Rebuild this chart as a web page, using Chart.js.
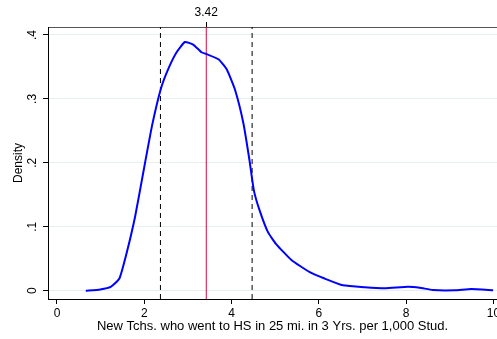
<!DOCTYPE html>
<html>
<head>
<meta charset="utf-8">
<script src="https://cdn.jsdelivr.net/npm/chart.js@4"></script>
<style>
  html, body { margin: 0; padding: 0; background: #fff; }
  #wrap { width: 497px; height: 339px; }
</style>
</head>
<body>
<div id="wrap"><canvas id="densityChart" width="497" height="339"></canvas></div>
<script>
// density curve
const xVals = [0.66, 0.99, 1.23, 1.43, 1.6, 1.79, 1.99, 2.18, 2.38, 2.55, 2.74, 2.93, 3.12, 3.31, 3.43,
    3.70, 3.89, 4.08, 4.27, 4.41, 4.51, 4.64, 4.83, 5.02, 5.37, 5.79, 6.13, 6.55, 7.05, 7.51,
    8.04, 8.31, 8.61, 9.11, 9.49, 9.99];
const densVals = [0, 0.002, 0.006, 0.019, 0.06, 0.116, 0.19, 0.259, 0.316, 0.347, 0.373, 0.389, 0.385, 0.373, 0.370,
    0.362, 0.346, 0.314, 0.262, 0.204, 0.157, 0.126, 0.092, 0.073, 0.048, 0.029, 0.019, 0.0084, 0.0053, 0.0037,
    0.0063, 0.0047, 0.001, 0.0006, 0.0027, 0.0006];

const meanVal = 3.42;
const bandVals = [2.37, 4.47];
const xTicks = [0, 2, 4, 6, 8, 10];
const yTicks = [0, 0.1, 0.2, 0.3, 0.4];

const X_MIN = -0.206, X_MAX = 10.08;
const Y_MIN = -0.013, Y_MAX = 0.4125;
const FONT = { family: 'Liberation Sans, Arial, sans-serif', size: 12 };
const TITLE_FONT = { family: 'Liberation Sans, Arial, sans-serif', size: 13 };

const fmtY = v => v === 0 ? '0' : String(+v.toFixed(1)).replace(/^0/, '');

function vline(x, color, dash) {
    return {
        data: [{ x: x, y: Y_MIN }, { x: x, y: Y_MAX }],
        borderColor: color,
        borderWidth: 1,
        borderDash: dash,
        pointRadius: 0,
        fill: false
    };
}

// y tick labels rotated like Stata
const rotatedYLabels = {
    id: 'rotatedYLabels',
    afterDraw(chart) {
        const ctx = chart.ctx;
        const ys = chart.scales.y;
        ctx.save();
        ctx.fillStyle = '#000';
        ctx.font = FONT.size + 'px ' + FONT.family;
        ctx.textAlign = 'center';
        ctx.textBaseline = 'middle';
        yTicks.forEach(v => {
            const py = ys.getPixelForValue(v);
            ctx.save();
            ctx.translate(33, py);
            ctx.rotate(-Math.PI / 2);
            ctx.fillText(fmtY(v), 0, 0);
            ctx.restore();
        });
        ctx.restore();
    }
};

const ctx = document.getElementById('densityChart').getContext('2d');
new Chart(ctx, {
    type: 'line',
    data: {
        datasets: [
            {
                data: xVals.map((x, i) => ({ x: x, y: densVals[i] })),
                borderColor: '#0000ff',
                borderWidth: 2,
                pointRadius: 0,
                tension: 0.15,
                fill: false
            },
            vline(bandVals[0], '#000', [5, 4]),
            vline(bandVals[1], '#000', [5, 4]),
            vline(meanVal, '#d4083c', [])
        ]
    },
    options: {
        responsive: false,
        animation: false,
        layout: { padding: 0 },
        plugins: {
            legend: { display: false },
            tooltip: { enabled: false }
        },
        scales: {
            x: {
                type: 'linear',
                position: 'bottom',
                min: X_MIN,
                max: X_MAX,
                afterBuildTicks: s => { s.ticks = xTicks.map(v => ({ value: v })); },
                afterFit: s => { s.height = 40; s.paddingLeft = 0; s.paddingRight = 0; },
                ticks: { color: '#000', font: FONT, padding: 2, maxRotation: 0, autoSkip: false },
                grid: { drawOnChartArea: false, tickLength: 5, tickColor: '#000' },
                border: { color: '#000', width: 1 },
                title: {
                    display: true,
                    text: 'New Tchs. who went to HS in 25 mi. in 3 Yrs. per 1,000 Stud.',
                    color: '#000',
                    font: TITLE_FONT,
                    padding: { top: 0, bottom: 5 }
                }
            },
            xTop: {
                type: 'linear',
                position: 'top',
                min: X_MIN,
                max: X_MAX,
                afterBuildTicks: s => { s.ticks = [{ value: meanVal }]; },
                afterFit: s => { s.height = 27; s.paddingLeft = 0; s.paddingRight = 0; },
                ticks: {
                    color: '#000', font: FONT, padding: 2, maxRotation: 0, autoSkip: false,
                    callback: v => v.toFixed(2)
                },
                grid: { drawOnChartArea: false, tickLength: 5, tickColor: '#000' },
                border: { color: '#555', width: 1 }
            },
            y: {
                type: 'linear',
                min: Y_MIN,
                max: Y_MAX,
                afterBuildTicks: s => { s.ticks = yTicks.map(v => ({ value: v })); },
                afterFit: s => { s.width = 48; },
                ticks: { display: false },
                grid: { color: '#e6eef0', lineWidth: 1, tickLength: 5, tickColor: '#000' },
                border: { color: '#000', width: 1 },
                title: {
                    display: true,
                    text: 'Density',
                    color: '#000',
                    font: FONT,
                    padding: { top: 11, bottom: 0 }
                }
            }
        }
    },
    plugins: [rotatedYLabels]
});
</script>
</body>
</html>
